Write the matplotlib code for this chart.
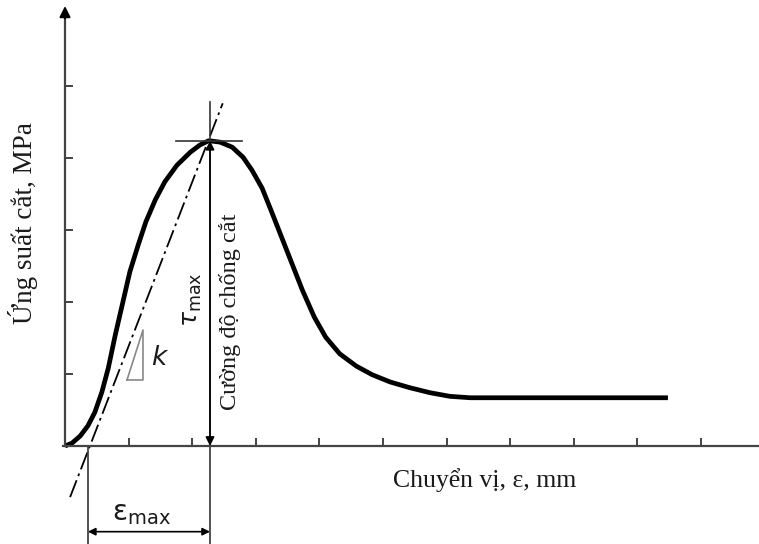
import numpy as np
import matplotlib
matplotlib.use("Agg")
import matplotlib.pyplot as plt

# Dữ liệu đường cong (đơn vị = khoảng chia trên trục)
curve_x = [0.0, 0.11, 0.24, 0.36, 0.47, 0.58, 0.68, 0.79, 0.90, 1.02, 1.15, 1.27,
           1.42, 1.57, 1.76, 1.97, 2.12, 2.26, 2.44, 2.63, 2.80, 2.94, 3.10, 3.25,
           3.41, 3.57, 3.73, 3.92, 4.10, 4.32, 4.58, 4.83, 5.11, 5.42, 5.74, 6.05,
           6.37, 9.48]
curve_y = [0.0, 0.04, 0.14, 0.28, 0.47, 0.75, 1.08, 1.54, 1.96, 2.42, 2.79, 3.11,
           3.42, 3.67, 3.90, 4.08, 4.18, 4.24, 4.22, 4.15, 4.01, 3.83, 3.58, 3.25,
           2.89, 2.53, 2.17, 1.79, 1.51, 1.28, 1.11, 0.99, 0.89, 0.81, 0.74, 0.69,
           0.67, 0.67]

peak_x, peak_y = 2.28, 4.24
tangent_x = [0.08, 2.48]
tangent_y = [-0.71, 4.76]
eps0_x = 0.36
slope_tri_x = [0.975, 1.226, 1.226, 0.975]
slope_tri_y = [0.917, 0.917, 1.611, 0.917]
x_ticks = np.arange(1, 11)
y_ticks = np.arange(1, 6)

plt.rcParams['font.family'] = ['Liberation Serif', 'DejaVu Serif']
txt_color = "#1a1a1a"
ax_color = "#444444"

fig = plt.figure(figsize=(7.59, 5.44), dpi=100)
ax = fig.add_axes([0, 0, 1, 1])
ax.set_xlim(-65 / 63.6, 694 / 63.6)
ax.set_ylim(-98 / 72, 446 / 72)

# Trục
for s in ["top", "right"]:
    ax.spines[s].set_visible(False)
ax.spines["left"].set_position(("data", 0))
ax.spines["bottom"].set_position(("data", 0))
ax.spines["left"].set_bounds(0, 6.0)
ax.spines["bottom"].set_bounds(-0.03, 11)
for s in ["left", "bottom"]:
    ax.spines[s].set_color(ax_color)
    ax.spines[s].set_linewidth(1.6)
ax.set_xticks(x_ticks)
ax.set_yticks(y_ticks)
ax.tick_params(direction="in", length=6, width=1.4, color=ax_color,
               labelleft=False, labelbottom=False)
ax.annotate("", xy=(0, 6.15), xytext=(0, 5.9),
            arrowprops=dict(arrowstyle="-|>", color="black", lw=1.5, mutation_scale=16))

# Đường cong ứng suất - chuyển vị
ax.plot(curve_x, curve_y, color="black", lw=3.4, solid_joinstyle="round",
        solid_capstyle="butt")

# Tiếp tuyến (dash-dot)
ax.plot(tangent_x, tangent_y, color="black", lw=1.3, linestyle=(0, (10, 2.5, 1.5, 2.5)))

# Dấu đỉnh
ax.plot([1.75, 2.78], [peak_y, peak_y], color="#333333", lw=1.2)
ax.plot([peak_x, peak_x], [4.78, -1.4], color="#333333", lw=1.2, clip_on=False)
ax.annotate("", xy=(peak_x, peak_y), xytext=(peak_x, 0),
            arrowprops=dict(arrowstyle="<|-|>", color="black", lw=1.2,
                            mutation_scale=13, shrinkA=0, shrinkB=0))

# epsilon max
ax.plot([eps0_x, eps0_x], [0, -1.4], color="#333333", lw=1.2, clip_on=False)
ax.annotate("", xy=(eps0_x, -1.19), xytext=(peak_x, -1.19),
            arrowprops=dict(arrowstyle="<|-|>", color="black", lw=1.2,
                            mutation_scale=11, shrinkA=0, shrinkB=0))
ax.text(1.2, -0.93, r"ε$_{\mathregular{max}}$", ha="center", va="center",
        fontsize=20, color=txt_color, family="DejaVu Sans")

# Tam giác độ dốc k
ax.plot(slope_tri_x, slope_tri_y, color="#888888", lw=1.2)
ax.text(1.48, 1.22, "k", style="italic", fontsize=19, ha="center", va="center",
        family="DejaVu Sans", color=txt_color)

# Chữ
ax.text(2.0, 2.03, r"$\tau_{\mathregular{max}}$", rotation=90, ha="center",
        va="center", fontsize=18, color=txt_color, family="DejaVu Sans")
ax.text(2.6, 1.86, "Cường độ chống cắt", rotation=90, ha="center", va="center",
        fontsize=17.5, color=txt_color)
ax.text(-0.66, 3.1, "Ứng suất cắt, MPa", rotation=90, ha="center", va="center",
        fontsize=19.5, color=txt_color)
ax.text(6.6, -0.47, "Chuyển vị, ε, mm", ha="center", va="center",
        fontsize=18.5, color=txt_color)

fig.savefig("out.png", dpi=100)
